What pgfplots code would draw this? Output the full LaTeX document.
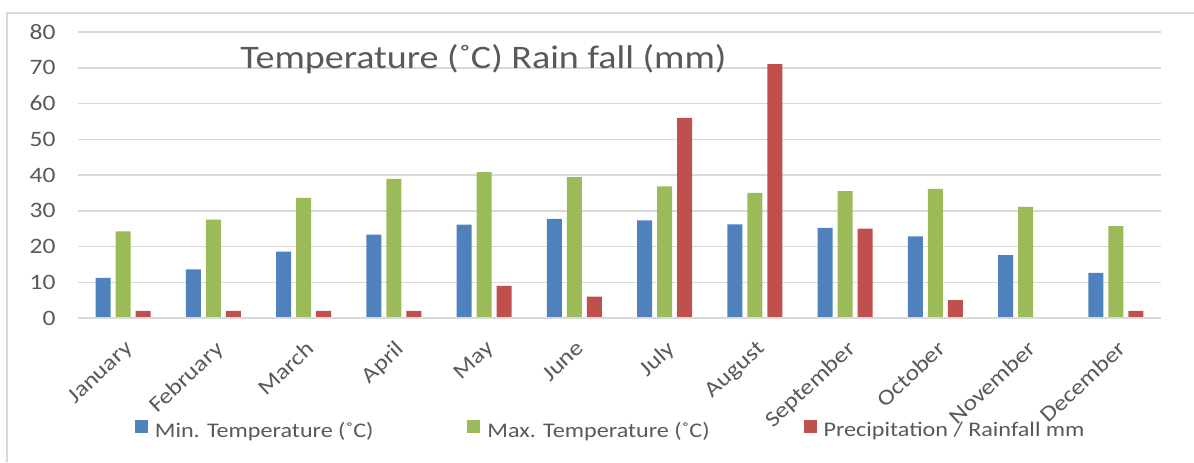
\documentclass[border=0pt]{standalone}
\usepackage{fontspec}
\setmainfont{Carlito}[FakeStretch=1.16]
\usepackage{pgfplots}
\pgfplotsset{compat=1.18}
\definecolor{cblue}{HTML}{4F81BD}
\definecolor{cgreen}{HTML}{9BBB59}
\definecolor{cred}{HTML}{C0504D}
\definecolor{gridc}{HTML}{D9D9D9}
\definecolor{txt}{HTML}{595959}

\pgfplotstableread{
x minT maxT rain
0 11.2 24.2 2
1 13.6 27.5 2
2 18.6 33.6 2
3 23.3 38.9 2
4 26.1 40.8 9
5 27.7 39.4 6
6 27.3 36.8 56
7 26.2 35.0 71
8 25.2 35.5 25
9 22.8 36.1 5
10 17.6 31.1 0
11 12.6 25.7 2
}\climate

\begin{document}
\begin{tikzpicture}
\path[use as bounding box] (0,0) rectangle (597pt,231pt);
\draw[gridc, line width=0.75pt] (3.5pt,0) -- (3.5pt,224.5pt) -- (597pt,224.5pt);
\begin{axis}[
  at={(39pt,72pt)}, anchor=south west,
  scale only axis, width=541.5pt, height=143pt,
  xmin=-0.5, xmax=11.5, ymin=0, ymax=80,
  ytick={0,10,...,80},
  xtick={0,...,11},
  xticklabels={January,February,March,April,May,June,July,August,September,October,November,December},
  ymajorgrids, grid style={gridc, line width=0.75pt},
  axis line style={draw=none},
  major tick length=0pt,
  ybar=2.5pt, bar width=7.5pt,
  /pgf/number format/assume math mode=true,
  tick label style={font=\fontsize{11}{13}\selectfont, text=txt},
  yticklabel style={inner sep=0pt, anchor=east, xshift=-11pt},
  xticklabel style={inner sep=0pt, xshift=0.5pt, yshift=-10.5pt, rotate=43, anchor=north east},
  legend columns=3,
  legend style={at={(0.491,-0.392)}, anchor=center, draw=none, fill=none,
    font=\fontsize{10.4}{12}\selectfont, text=txt, nodes={inner sep=0pt},
    /tikz/every odd column/.append style={column sep=3.5pt},
    /tikz/every even column/.append style={column sep=47pt}},
  legend image code/.code={\fill[#1,draw=none] (0pt,-1pt) rectangle (6.5pt,5.5pt);},
]
\addplot[fill=cblue, draw=none] table[x=x, y=minT] {\climate};
\addplot[fill=cgreen, draw=none] table[x=x, y=maxT] {\climate};
\addplot[fill=cred, draw=none] table[x=x, y=rain] {\climate};
\legend{Min. Temperature (˚C), Max. Temperature (˚C), Precipitation / Rainfall mm}
\draw[gridc, line width=0.75pt] (rel axis cs:0,0) -- (rel axis cs:1,0);
\end{axis}
\node[anchor=base west, inner sep=0pt, text=txt, font=\fontsize{16.4}{19}\selectfont] at (120pt,196.9pt) {Temperature (˚C) Rain fall (mm)};
\end{tikzpicture}
\end{document}
